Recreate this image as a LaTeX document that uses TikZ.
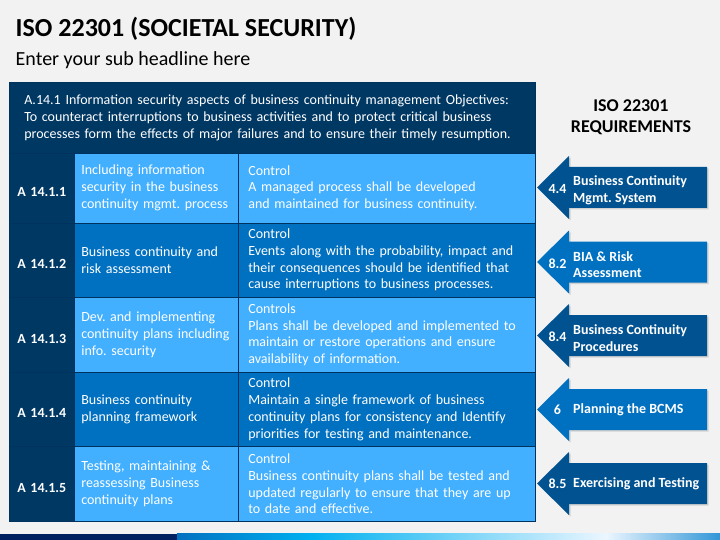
\documentclass[tikz,border=0pt]{standalone}
\usepackage{fontspec}
\setmainfont{Carlito}
\definecolor{bgc}{RGB}{242,242,242}
\definecolor{navy}{RGB}{0,56,100}
\definecolor{lightb}{RGB}{66,175,255}
\definecolor{midb}{RGB}{0,112,192}
\definecolor{arrdark}{RGB}{0,82,145}
\definecolor{tline}{RGB}{0,50,95}
\definecolor{stripnavy}{RGB}{0,32,96}
\definecolor{cyanb}{RGB}{0,176,240}
\definecolor{paleb}{RGB}{235,246,255}
\definecolor{endb}{RGB}{50,150,215}
\newcommand\lowr[1]{\raisebox{-4pt}[\height][\depth]{#1}}
\begin{document}
\frenchspacing
\begin{tikzpicture}[x=1pt,y=-1pt,
  txt/.style={inner sep=0pt, text=black},
  cellbase/.style={draw=tline, line width=0.6pt, anchor=north west, inner ysep=0pt,
    text=white, font=\fontsize{14}{16.7}\selectfont, align=left},
  cone/.style={cellbase, fill=navy, minimum width=65pt, text width=65pt, inner xsep=0pt,
    align=center, font=\bfseries\fontsize{14}{16.7}\selectfont},
  ctwo/.style={cellbase, minimum width=164pt, text width=150pt, inner xsep=7pt},
  cthree/.style={cellbase, minimum width=297pt, text width=277pt, inner xsep=10pt},
  lt/.style={fill=lightb}, md/.style={fill=midb},
  anum/.style={inner sep=0pt, text=white, font=\bfseries\fontsize{14}{16.7}\selectfont},
  atext/.style={inner sep=0pt, anchor=west, text=white, align=left,
    font=\bfseries\fontsize{14}{16.7}\selectfont}
]
\useasboundingbox (0,0) rectangle (720,540);
\fill[bgc] (0,0) rectangle (720,540);

% titles
\node[txt, anchor=base west, font=\bfseries\fontsize{26}{31}\selectfont] (title) at (15.5,37) {ISO 22301 (SOCIETAL SECURITY)};
\node[txt, anchor=base west, font=\fontsize{20}{24}\selectfont] (sub) at (15.5,66) {Enter your sub headline here};

% table shadow
\fill[black!20, opacity=0.5] (10,83) rectangle (536,522);

% header
\node[cellbase, fill=navy, minimum width=526pt, minimum height=70.7pt, text width=496pt, inner xsep=15pt] (hdr) at (9,82)
 {A.14.1 Information security aspects of business continuity management Objectives:\\
  To counteract interruptions to business activities and to protect critical business\\
  processes form the effects of major failures and to ensure their timely resumption.};

% row 1
\node[cone, minimum height=70pt] (r1a) at (9,152.7) {\lowr{A 14.1.1}};
\node[ctwo, lt, minimum height=70pt] (r1b) at (74,152.7) {Including information\\security in the business\\continuity mgmt. process};
\node[cthree, lt, minimum height=70pt] (r1c) at (238,152.7) {Control\\A managed process shall be developed\\and maintained for business continuity.};
% row 2
\node[cone, minimum height=74.3pt] (r2a) at (9,222.7) {\lowr{A 14.1.2}};
\node[ctwo, md, minimum height=74.3pt] (r2b) at (74,222.7) {Business continuity and\\risk assessment};
\node[cthree, md, minimum height=74.3pt] (r2c) at (238,222.7) {Control\\Events along with the probability, impact and\\their consequences should be identified that\\cause interruptions to business processes.};
% row 3
\node[cone, minimum height=74.7pt] (r3a) at (9,297) {\lowr{A 14.1.3}};
\node[ctwo, lt, minimum height=74.7pt] (r3b) at (74,297) {Dev. and implementing\\continuity plans including\\info. security};
\node[cthree, lt, minimum height=74.7pt] (r3c) at (238,297) {Controls\\Plans shall be developed and implemented to\\maintain or restore operations and ensure\\availability of information.};
% row 4
\node[cone, minimum height=74.6pt] (r4a) at (9,371.7) {\lowr{A 14.1.4}};
\node[ctwo, md, minimum height=74.6pt] (r4b) at (74,371.7) {Business continuity\\planning framework};
\node[cthree, md, minimum height=74.6pt] (r4c) at (238,371.7) {Control\\Maintain a single framework of business\\continuity plans for consistency and Identify\\priorities for testing and maintenance.};
% row 5
\node[cone, minimum height=74.7pt] (r5a) at (9,446.3) {\lowr{A 14.1.5}};
\node[ctwo, lt, minimum height=74.7pt] (r5b) at (74,446.3) {Testing, maintaining \&\\reassessing Business\\continuity plans};
\node[cthree, lt, minimum height=74.7pt] (r5c) at (238,446.3) {Control\\Business continuity plans shall be tested and\\updated regularly to ensure that they are up\\to date and effective.};

% requirements heading
\node[txt, align=center, font=\bfseries\fontsize{18}{21}\selectfont] (req) at (631,117.5) {ISO 22301\\REQUIREMENTS};

% arrows
\newcommand\reqarrow[2]{%
  \fill[black!30, opacity=0.5] (538.5,{#1+1.5}) -- (570.5,{#1-30}) -- (570.5,{#1-19}) -- (708.5,{#1-19}) -- (708.5,{#1+22}) -- (570.5,{#1+22}) -- (570.5,{#1+33}) -- cycle;
  \fill[#2] (537,#1) -- (569,{#1-31.5}) -- (569,{#1-20.5}) -- (707,{#1-20.5}) -- (707,{#1+20.5}) -- (569,{#1+20.5}) -- (569,{#1+31.5}) -- cycle;}
\reqarrow{187.5}{arrdark}
\reqarrow{262}{midb}
\reqarrow{335.5}{arrdark}
\reqarrow{409.5}{midb}
\reqarrow{483.5}{arrdark}

\node[anum] (n1) at (557.5,189) {4.4};
\node[atext] (t1) at (573,190) {Business Continuity\\Mgmt. System};
\node[anum] (n2) at (557.5,263.5) {8.2};
\node[atext] (t2) at (573,264.5) {BIA \& Risk\\Assessment};
\node[anum] (n3) at (557.5,337) {8.4};
\node[atext] (t3) at (573,338) {Business Continuity\\Procedures};
\node[anum] (n4) at (557.5,410) {6};
\node[atext] (t4) at (573,410) {Planning the BCMS};
\node[anum] (n5) at (557.5,484) {8.5};
\node[atext] (t5) at (573,484) {Exercising and Testing};

% bottom strip
\fill[stripnavy] (0,533.5) rectangle (177,540);
\shade[left color=midb, right color=cyanb] (177,533.5) rectangle (310,540);
\shade[left color=cyanb, right color=paleb] (310,533.5) rectangle (606,540);
\shade[left color=paleb, right color=endb] (606,533.5) rectangle (720,540);
\end{tikzpicture}
\end{document}
